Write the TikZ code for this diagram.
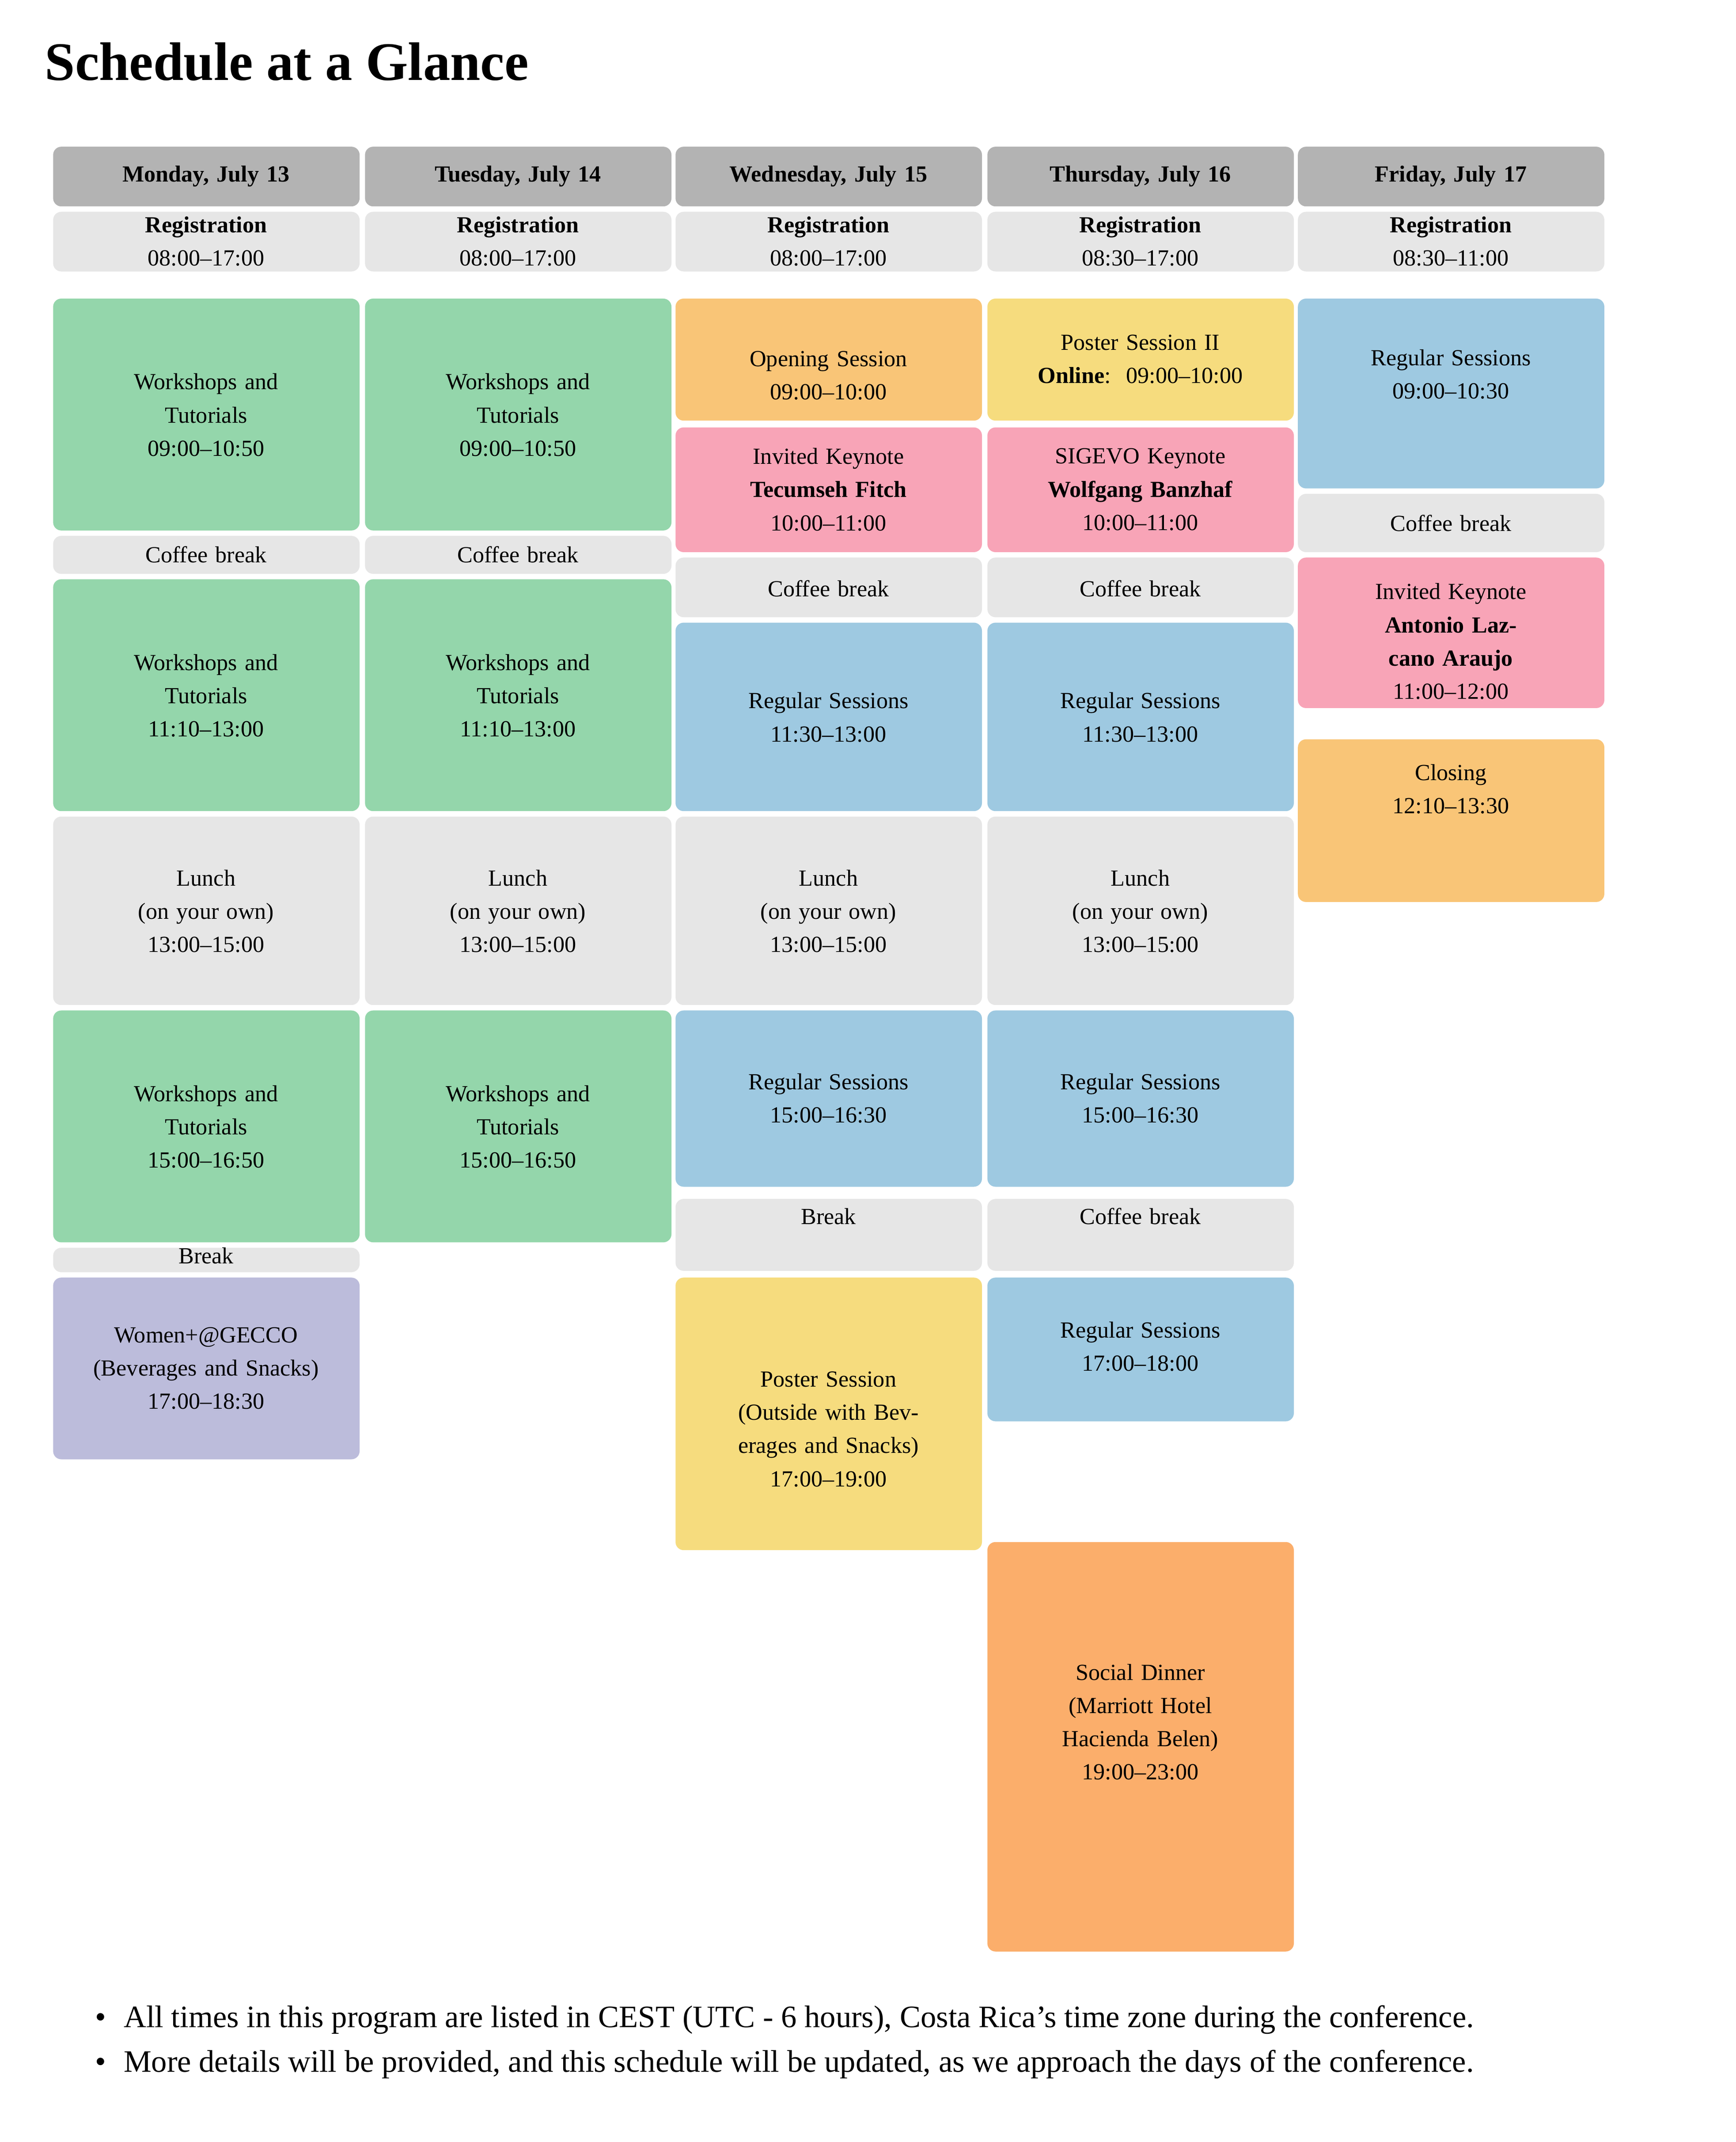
\documentclass[tikz,border=0pt]{standalone}
\usepackage{fontspec}
\setmainfont{Liberation Serif}
\definecolor{hdr}{HTML}{B3B3B3}
\definecolor{gry}{HTML}{E6E6E6}
\definecolor{grn}{HTML}{94D6AB}
\definecolor{blu}{HTML}{9EC9E1}
\definecolor{org}{HTML}{F9C577}
\definecolor{pnk}{HTML}{F8A4B7}
\definecolor{yel}{HTML}{F6DC7E}
\definecolor{pur}{HTML}{BCBCDB}
\definecolor{din}{HTML}{FBAE6B}
\tikzset{evbox/.style={rectangle,rounded corners=6pt,inner sep=0pt,anchor=north west},
 evtxt/.style={align=center,text width=215pt,inner sep=0pt,font=\fontsize{17}{24.5}\selectfont}}
\newcommand{\ev}[7]{%
 \node[evbox,fill=#5,minimum width=226pt,minimum height={(#4-#3)*1pt}] (#1) at (#2,#3) {};
 \node[evtxt] (#1t) at (#2+113,#7) {#6};}
\begin{document}
\begin{tikzpicture}[x=1pt,y=-1pt]
\useasboundingbox[fill=white] (0,0) rectangle (1280,1579.7);
\node[anchor=base west,inner sep=0pt,font=\fontsize{40}{48}\selectfont\bfseries] (title) at (33,59) {Schedule at a Glance};
% headers
\ev{h1}{39}{108}{152}{hdr}{\textbf{Monday, July 13}}{130}
\ev{h2}{269}{108}{152}{hdr}{\textbf{Tuesday, July 14}}{130}
\ev{h3}{498}{108}{152}{hdr}{\textbf{Wednesday, July 15}}{130}
\ev{h4}{728}{108}{152}{hdr}{\textbf{Thursday, July 16}}{130}
\ev{h5}{957}{108}{152}{hdr}{\textbf{Friday, July 17}}{130}
% registration
\ev{r1}{39}{156}{200}{gry}{\textbf{Registration}\\08:00--17:00}{178}
\ev{r2}{269}{156}{200}{gry}{\textbf{Registration}\\08:00--17:00}{178}
\ev{r3}{498}{156}{200}{gry}{\textbf{Registration}\\08:00--17:00}{178}
\ev{r4}{728}{156}{200}{gry}{\textbf{Registration}\\08:30--17:00}{178}
\ev{r5}{957}{156}{200}{gry}{\textbf{Registration}\\08:30--11:00}{178}
% Monday
\ev{m1}{39}{220}{391}{grn}{Workshops and\\Tutorials\\09:00--10:50}{306}
\ev{m2}{39}{395}{423}{gry}{Coffee break}{409}
\ev{m3}{39}{427}{598}{grn}{Workshops and\\Tutorials\\11:10--13:00}{513}
\ev{m4}{39}{602}{741}{gry}{Lunch\\(on your own)\\13:00--15:00}{672}
\ev{m5}{39}{745}{916}{grn}{Workshops and\\Tutorials\\15:00--16:50}{831}
\ev{m6}{39}{920}{938}{gry}{Break}{926}
\ev{m7}{39}{942}{1076}{pur}{Women+@GECCO\\(Beverages and Snacks)\\17:00--18:30}{1009}
% Tuesday
\ev{t1}{269}{220}{391}{grn}{Workshops and\\Tutorials\\09:00--10:50}{306}
\ev{t2}{269}{395}{423}{gry}{Coffee break}{409}
\ev{t3}{269}{427}{598}{grn}{Workshops and\\Tutorials\\11:10--13:00}{513}
\ev{t4}{269}{602}{741}{gry}{Lunch\\(on your own)\\13:00--15:00}{672}
\ev{t5}{269}{745}{916}{grn}{Workshops and\\Tutorials\\15:00--16:50}{831}
% Wednesday
\ev{w1}{498}{220}{310}{org}{Opening Session\\09:00--10:00}{277}
\ev{w2}{498}{315}{407}{pnk}{Invited Keynote\\\textbf{Tecumseh Fitch}\\10:00--11:00}{361}
\ev{w3}{498}{411}{455}{gry}{Coffee break}{434}
\ev{w4}{498}{459}{598}{blu}{Regular Sessions\\11:30--13:00}{529}
\ev{w5}{498}{602}{741}{gry}{Lunch\\(on your own)\\13:00--15:00}{672}
\ev{w6}{498}{745}{875}{blu}{Regular Sessions\\15:00--16:30}{810}
\ev{w7}{498}{884}{937}{gry}{Break}{897}
\ev{w8}{498}{942}{1143}{yel}{Poster Session\\(Outside with Bev-\\erages and Snacks)\\17:00--19:00}{1054}
% Thursday
\ev{u1}{728}{220}{310}{yel}{Poster Session II\\\textbf{Online}:\ \ 09:00--10:00}{265}
\ev{u2}{728}{315}{407}{pnk}{SIGEVO Keynote\\\textbf{Wolfgang Banzhaf}\\10:00--11:00}{361}
\ev{u3}{728}{411}{455}{gry}{Coffee break}{434}
\ev{u4}{728}{459}{598}{blu}{Regular Sessions\\11:30--13:00}{529}
\ev{u5}{728}{602}{741}{gry}{Lunch\\(on your own)\\13:00--15:00}{672}
\ev{u6}{728}{745}{875}{blu}{Regular Sessions\\15:00--16:30}{810}
\ev{u7}{728}{884}{937}{gry}{Coffee break}{897}
\ev{u8}{728}{942}{1048}{blu}{Regular Sessions\\17:00--18:00}{993}
\ev{u9}{728}{1137}{1439}{din}{Social Dinner\\(Marriott Hotel\\Hacienda Belen)\\19:00--23:00}{1270}
% Friday
\ev{f1}{957}{220}{360}{blu}{Regular Sessions\\09:00--10:30}{276}
\ev{f2}{957}{364}{407}{gry}{Coffee break}{386}
\ev{f3}{957}{411}{522}{pnk}{Invited Keynote\\\textbf{Antonio Laz-}\\\textbf{cano Araujo}\\11:00--12:00}{473}
\ev{f4}{957}{545}{665}{org}{Closing\\12:10--13:30}{582}
% notes
\node[anchor=base west,inner sep=0pt,font=\fontsize{23}{28}\selectfont] (n1) at (70,1495) {\textbullet\hspace{13pt}All times in this program are listed in CEST (UTC - 6 hours), Costa Rica’s time zone during the conference.};
\node[anchor=base west,inner sep=0pt,font=\fontsize{23}{28}\selectfont] (n2) at (70,1528) {\textbullet\hspace{13pt}More details will be provided, and this schedule will be updated, as we approach the days of the conference.};
\end{tikzpicture}
\end{document}
